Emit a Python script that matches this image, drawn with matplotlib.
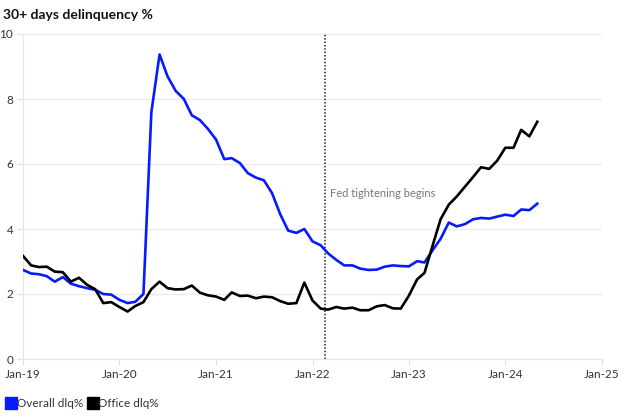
import numpy as np
import pandas as pd
import matplotlib
matplotlib.use("Agg")
import matplotlib.pyplot as plt
import matplotlib.dates as mdates
from matplotlib.lines import Line2D

plt.rcParams['font.family'] = ['Lato', 'DejaVu Sans']

# --- data (monthly, Jan-2019 .. May-2024) ---
months = pd.date_range("2019-01-01", "2024-05-01", freq="MS")

overall_dlq = [2.74, 2.63, 2.61, 2.55, 2.38, 2.52, 2.32, 2.24, 2.18, 2.13, 2.00, 1.98,
               1.82, 1.72, 1.76, 2.00, 7.60, 9.37, 8.70, 8.25, 8.00, 7.50, 7.35, 7.08,
               6.75, 6.15, 6.18, 6.03, 5.72, 5.58, 5.50, 5.10, 4.45, 3.95, 3.88, 4.00,
               3.62, 3.50, 3.25, 3.05, 2.88, 2.88, 2.78, 2.74, 2.75, 2.84, 2.88, 2.86,
               2.85, 3.01, 2.97, 3.35, 3.70, 4.20, 4.08, 4.15, 4.30, 4.34, 4.32, 4.38,
               4.44, 4.40, 4.60, 4.58, 4.78]

office_dlq = [3.17, 2.88, 2.83, 2.84, 2.69, 2.67, 2.38, 2.50, 2.28, 2.15, 1.72, 1.75,
              1.60, 1.46, 1.63, 1.75, 2.15, 2.38, 2.18, 2.14, 2.15, 2.26, 2.04, 1.96,
              1.92, 1.82, 2.05, 1.94, 1.95, 1.87, 1.92, 1.90, 1.78, 1.70, 1.72, 2.35,
              1.80, 1.55, 1.52, 1.60, 1.55, 1.58, 1.50, 1.50, 1.62, 1.66, 1.56, 1.55,
              1.95, 2.45, 2.65, 3.50, 4.30, 4.75, 5.00, 5.30, 5.60, 5.90, 5.85, 6.10,
              6.50, 6.50, 7.05, 6.85, 7.30]

fed_date = pd.Timestamp("2022-02-16")
fed_label = "Fed tightening begins"
series_names = ["Overall dlq%", "Office dlq%"]
series_colors = ["#0a1aff", "#000000"]

fig = plt.figure(figsize=(6.4, 4.18), dpi=100)
ax = fig.add_axes([23 / 640, 1 - 359 / 418, (602 - 23) / 640, (359 - 34) / 418])

ax.plot(months, overall_dlq, color=series_colors[0], lw=1.9, solid_joinstyle='round', zorder=3)
ax.plot(months, office_dlq, color=series_colors[1], lw=1.9, solid_joinstyle='round', zorder=3)

ax.axvline(fed_date, color="#222222", lw=1.1, linestyle=(0, (1, 1.2)), zorder=2)
ax.text(fed_date + pd.Timedelta(days=20), 5.1, fed_label, fontsize=8,
        color="#777777", va="center", ha="left")

ax.set_ylim(0, 10)
ax.set_yticks([0, 2, 4, 6, 8, 10])
ax.set_xlim(pd.Timestamp("2019-01-01"), pd.Timestamp("2025-01-01"))
ax.xaxis.set_major_locator(mdates.YearLocator())
ax.xaxis.set_major_formatter(mdates.DateFormatter("Jan-%y"))

ax.grid(axis='y', color="#ebebeb", lw=0.9)
ax.set_axisbelow(True)
for s in ["top", "right"]:
    ax.spines[s].set_visible(False)
for s in ["left", "bottom"]:
    ax.spines[s].set_color("#e6e6e6")
    ax.spines[s].set_linewidth(0.9)
ax.tick_params(axis='both', colors="#e0e0e0", labelcolor="#333333", labelsize=8.5,
               length=4, width=0.8)
ax.tick_params(axis='y', pad=3)

fig.text(3 / 640, 1 - 15 / 418, "30+ days delinquency %", fontsize=10,
         fontweight="bold", va="center", ha="left", color="#111111")

handles = [Line2D([], [], linestyle="none", marker="s", markersize=8,
                  markerfacecolor=c, markeredgecolor=c) for c in series_colors]
fig.legend(handles, series_names, loc="lower left", bbox_to_anchor=(-0.005, -0.005),
           ncol=2, frameon=False, fontsize=8.5, handlelength=0.6, handletextpad=0.2,
           columnspacing=0.5, labelcolor="#333333")

fig.savefig("out.png", dpi=100)
